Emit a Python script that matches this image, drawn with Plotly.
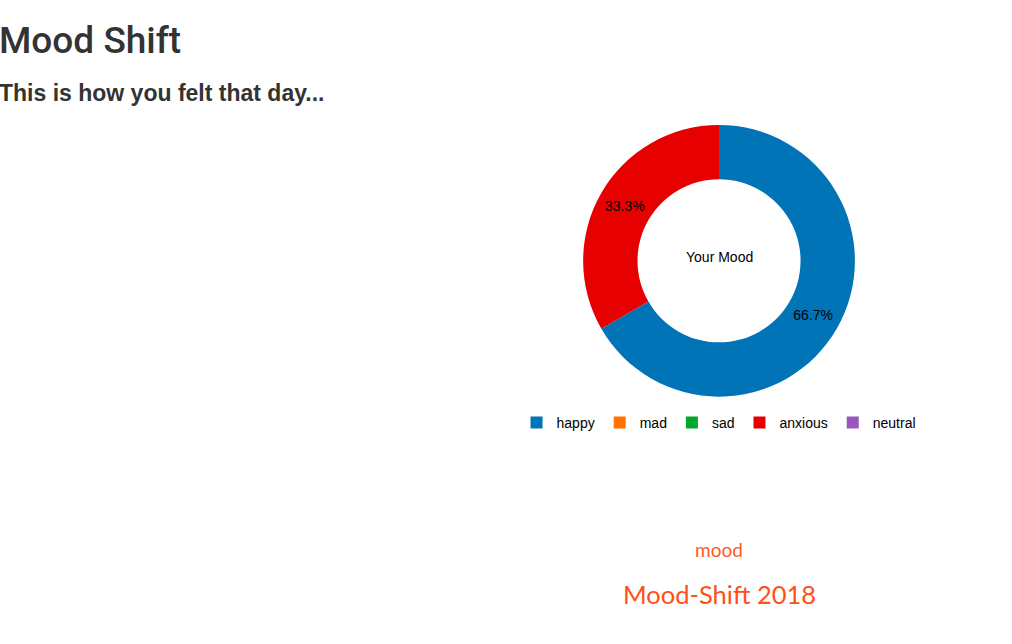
import plotly.graph_objects as go

moods = ["happy", "mad", "sad", "anxious", "neutral"]
counts = [2, 0, 0, 1, 0]
colors = ["#0173b7", "#ff7300", "#00a82d", "#e60000", "#9b55c0"]

title_text = "Mood Shift"
subtitle_text = "This is how you felt that day..."
center_text = "Your Mood"
logo_text = "mood"
footer_text = "Mood-Shift 2018"

H = 644

def py(px):
    return 1 - px / H

fig = go.Figure(go.Pie(
    labels=moods, values=counts, hole=0.6, sort=False, direction="clockwise",
    rotation=0, marker=dict(colors=colors, line=dict(width=0)),
    textinfo="percent", textposition="inside", insidetextorientation="horizontal",
    textfont=dict(color="black", size=14, family="Liberation Sans, Arial"),
    domain=dict(x=[0.576, 0.845], y=[0.384, 0.806]),
    hoverinfo="label+percent",
))

fig.update_layout(
    width=1012, height=644, margin=dict(l=0, r=0, t=0, b=0),
    paper_bgcolor="white", plot_bgcolor="white",
    font=dict(family="Liberation Sans, Arial", color="black", size=14),
    showlegend=True,
    legend=dict(orientation="h", x=0.7105, xanchor="center", y=py(407), yanchor="top",
                font=dict(size=14, color="black"), itemclick=False),
    annotations=[
        dict(text=title_text, x=0, y=py(40), xref="paper", yref="paper", showarrow=False,
             xanchor="left", yanchor="middle", xshift=-3,
             font=dict(size=37, color="#333333", family="Roboto", weight=500)),
        dict(text="<b>" + subtitle_text + "</b>", x=0, y=py(93), xref="paper", yref="paper", showarrow=False,
             xanchor="left", yanchor="middle", xshift=-3,
             font=dict(size=23, color="#333333")),
        dict(text=center_text, x=0.7105, y=py(257), xref="paper", yref="paper", showarrow=False,
             xanchor="center", yanchor="middle", font=dict(size=14, color="black")),
        dict(text=logo_text, x=0.7105, y=py(549), xref="paper", yref="paper", showarrow=False,
             xanchor="center", yanchor="middle", font=dict(size=19, color="#ff5a1f", family="Lato")),
        dict(text=footer_text, x=0.7105, y=py(594), xref="paper", yref="paper", showarrow=False,
             xanchor="center", yanchor="middle", font=dict(size=25.5, color="#ff4f19", family="Lato")),
    ],
)

fig.write_html("out.html", config=dict(displayModeBar=False))
